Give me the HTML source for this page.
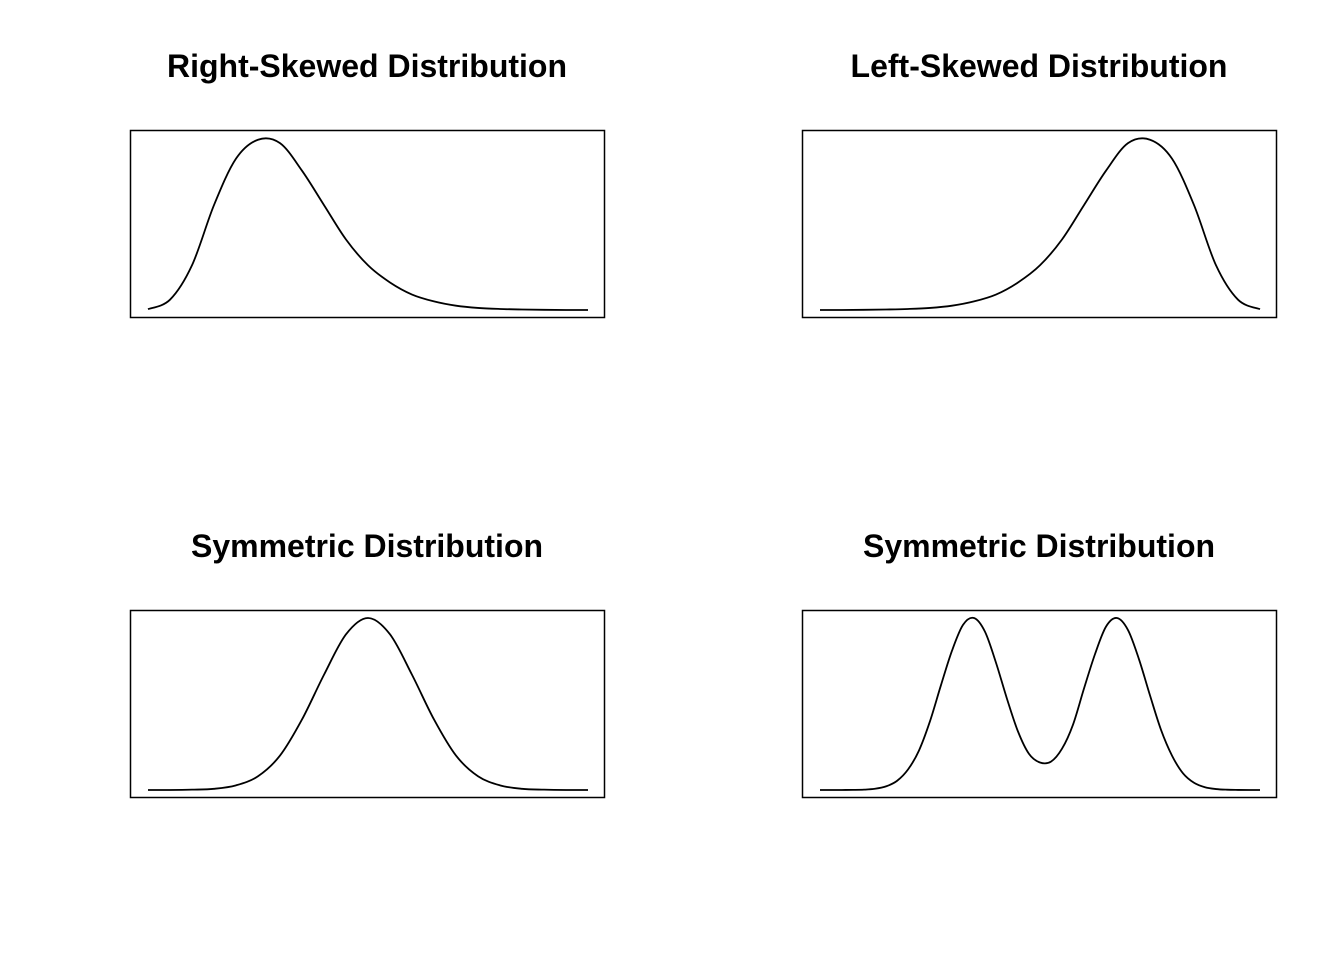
<!DOCTYPE html>
<html><head><meta charset="utf-8"><style>
html,body{margin:0;padding:0;background:#fff;}
svg{display:block;}
text{font-family:"Liberation Sans",Arial,sans-serif;font-weight:bold;font-size:32px;}
</style></head><body>
<svg id="chart" width="1344" height="960"></svg>
<script>
const rightSkewed=[0.005,0.06,0.26,0.61,0.88,0.99,0.97,0.81,0.61,0.41,0.26,0.16,0.09,0.05,0.025,0.012,0.006,0.003,0.001,0,0];
const leftSkewed=rightSkewed.slice().reverse();
const symmetric=[0,0,0.002,0.007,0.027,0.08,0.2,0.41,0.67,0.905,1,0.905,0.67,0.41,0.2,0.08,0.027,0.007,0.002,0,0];
const bimodal=[0,0,0.0002,0.0006,0.002,0.007,0.021,0.053,0.119,0.23,0.40,0.61,0.81,0.96,1.0,0.92,0.74,0.53,0.34,0.21,0.16,0.165,0.24,0.38,0.59,0.79,0.95,1.0,0.93,0.76,0.55,0.35,0.20,0.097,0.042,0.016,0.0055,0.0017,0.0005,0,0];
const titles=["Right-Skewed Distribution","Left-Skewed Distribution","Symmetric Distribution","Symmetric Distribution"];
const seriesList=[rightSkewed,leftSkewed,symmetric,bimodal];
const names=["right-skewed","left-skewed","symmetric","bimodal"];
const NS="http://www.w3.org/2000/svg";
const svg=document.getElementById('chart');
function mk(t,a){const e=document.createElementNS(NS,t);for(const k in a)e.setAttribute(k,a[k]);return e;}
seriesList.forEach((vals,p)=>{
  const ox=(p%2)*672, oy=Math.floor(p/2)*480;
  const g=mk('g',{});
  
  
  const t=mk('text',{x:367+ox,y:77+oy,'text-anchor':'middle'});
  t.textContent=titles[p];
  
  
  g.appendChild(t);
  const r=mk('rect',{x:130.5+ox,y:130.5+oy,width:474,height:187,fill:'none',stroke:'#000','stroke-width':1.5});
  
  
  g.appendChild(r);
  const x0=148+ox,x1=588+ox,base=310+oy,top=138+oy;
  const n=vals.length;
  const xs=i=>x0+(x1-x0)*i/(n-1);
  const ys=v=>base-(base-top)*v;
  const pts=vals.map((v,i)=>[xs(i),ys(v)]);
  let d='M'+pts[0][0]+','+pts[0][1];
  for(let i=0;i<n-1;i++){
    const p0=pts[Math.max(0,i-1)],p1=pts[i],p2=pts[i+1],p3=pts[Math.min(n-1,i+2)];
    const c1=[p1[0]+(p2[0]-p0[0])/6,p1[1]+(p2[1]-p0[1])/6];
    const c2=[p2[0]-(p3[0]-p1[0])/6,p2[1]-(p3[1]-p1[1])/6];
    d+=` C${c1[0]},${c1[1]} ${c2[0]},${c2[1]} ${p2[0]},${p2[1]}`;
  }
  const path=mk('path',{d:d,fill:'none',stroke:'#000','stroke-width':1.8});
  
  
  g.appendChild(path);
  svg.appendChild(g);
});
</script>
</body></html>
